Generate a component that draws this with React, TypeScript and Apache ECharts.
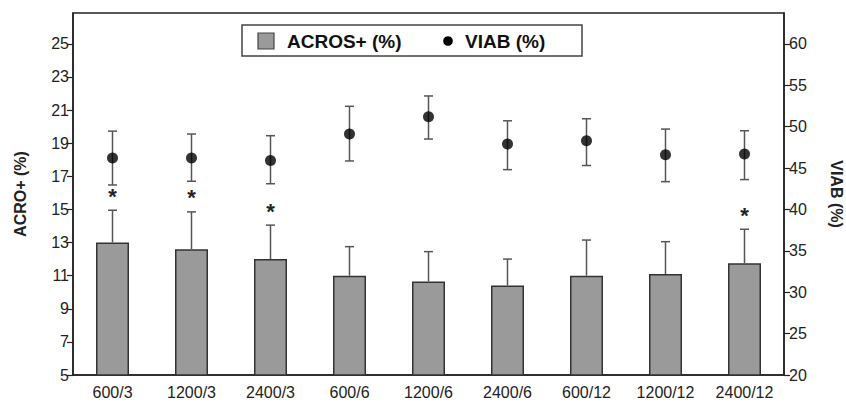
import React, { useEffect, useRef } from "react";
import * as echarts from "echarts";

const categories = ["600/3", "1200/3", "2400/3", "600/6", "1200/6", "2400/6", "600/12", "1200/12", "2400/12"];
const acrosMean = [13.0, 12.6, 12.0, 11.0, 10.65, 10.4, 11.0, 11.1, 11.75];
const acrosUpper = [14.95, 14.85, 14.05, 12.75, 12.45, 12.0, 13.15, 13.05, 13.8];
const acrosSig = [1, 1, 1, 0, 0, 0, 0, 0, 1];
const viabMean = [46.2, 46.2, 45.9, 49.1, 51.2, 47.9, 48.3, 46.6, 46.7];
const viabLower = [42.95, 43.4, 43.1, 45.85, 48.5, 44.8, 45.3, 43.35, 43.6];
const viabUpper = [49.45, 49.1, 48.9, 52.45, 53.7, 50.7, 50.95, 49.7, 49.5];
const leftTicks = [5, 7, 9, 11, 13, 15, 17, 19, 21, 23, 25];
const rightTicks = [20, 25, 30, 35, 40, 45, 50, 55, 60];

const FONT = "'Liberation Sans', Arial, Helvetica, sans-serif";

export default function App() {
  const ref = useRef<HTMLDivElement>(null);
  useEffect(() => {
    if (!ref.current) return;
    const chart = echarts.init(ref.current, undefined, { renderer: "svg" });
    const barErrData = categories.map((_, i) => [i, acrosMean[i], acrosUpper[i], acrosSig[i]]);
    const viabErrData = categories.map((_, i) => [i, viabMean[i], viabLower[i], viabUpper[i]]);
    const capHalf = 4.5;
    const option: any = {
      animation: false,
      textStyle: { fontFamily: FONT },
      grid: {
        left: 73, right: 62, top: 13, bottom: 31,
        outerBoundsMode: "none",
        containLabel: false,
        show: true, borderColor: "#222", borderWidth: 1.5, backgroundColor: "transparent",
      },
      xAxis: {
        type: "category",
        data: categories,
        axisLine: { lineStyle: { color: "#222", width: 1.5 } },
        axisTick: { show: false },
        axisLabel: { fontSize: 16, color: "#222", margin: 9, fontFamily: FONT },
        splitLine: { show: false },
      },
      yAxis: [
        {
          type: "value",
          min: 5, max: 26.86,
          name: "ACRO+ (%)",
          nameLocation: "middle",
          nameGap: 45,
          nameRotate: 90,
          nameTextStyle: { fontSize: 16, fontWeight: "bold", color: "#222", fontFamily: FONT },
          axisLine: { show: true, lineStyle: { color: "#222", width: 1.5 } },
          axisTick: { show: true, length: 6, customValues: leftTicks, lineStyle: { color: "#222", width: 1.2 } },
          axisLabel: { fontSize: 16, color: "#222", margin: 4, customValues: leftTicks, fontFamily: FONT },
          splitLine: { show: false },
        },
        {
          type: "value",
          min: 20, max: 63.72,
          position: "right",
          name: "VIAB (%)",
          nameLocation: "middle",
          nameGap: 44,
          nameRotate: -90,
          nameTextStyle: { fontSize: 16, fontWeight: "bold", color: "#222", fontFamily: FONT },
          axisLine: { show: true, lineStyle: { color: "#222", width: 1.5 } },
          axisTick: { show: true, length: 6, customValues: rightTicks, lineStyle: { color: "#222", width: 1.2 } },
          axisLabel: { fontSize: 16, color: "#222", margin: 5, customValues: rightTicks, fontFamily: FONT },
          splitLine: { show: false },
        },
      ],
      series: [
        {
          name: "ACROS+ (%)",
          type: "bar",
          yAxisIndex: 0,
          data: acrosMean,
          barWidth: 33,
          itemStyle: { color: "#9a9a9a", borderColor: "#333", borderWidth: 1.5 },
          z: 2,
        },
        {
          type: "custom",
          yAxisIndex: 0,
          data: barErrData,
          z: 3,
          renderItem: (params: any, api: any) => {
            const x = api.value(0);
            const base = api.coord([x, api.value(1)]);
            const top = api.coord([x, api.value(2)]);
            const children: any[] = [
              { type: "line", shape: { x1: base[0], y1: base[1], x2: top[0], y2: top[1] }, style: { stroke: "#555", lineWidth: 1.5 } },
              { type: "line", shape: { x1: top[0] - capHalf, y1: top[1], x2: top[0] + capHalf, y2: top[1] }, style: { stroke: "#555", lineWidth: 1.5 } },
            ];
            if (api.value(3) === 1) {
              children.push({
                type: "text",
                style: {
                  text: "*", x: top[0], y: top[1] - 3, align: "center", verticalAlign: "bottom",
                  fontSize: 22, fontWeight: "bold", fill: "#222", fontFamily: FONT,
                },
              });
            }
            return { type: "group", children };
          },
        },
        {
          type: "custom",
          yAxisIndex: 1,
          data: viabErrData,
          z: 3,
          renderItem: (params: any, api: any) => {
            const x = api.value(0);
            const lo = api.coord([x, api.value(2)]);
            const hi = api.coord([x, api.value(3)]);
            const st = { stroke: "#555", lineWidth: 1.5 };
            return {
              type: "group",
              children: [
                { type: "line", shape: { x1: lo[0], y1: lo[1], x2: hi[0], y2: hi[1] }, style: st },
                { type: "line", shape: { x1: lo[0] - capHalf, y1: lo[1], x2: lo[0] + capHalf, y2: lo[1] }, style: st },
                { type: "line", shape: { x1: hi[0] - capHalf, y1: hi[1], x2: hi[0] + capHalf, y2: hi[1] }, style: st },
              ],
            };
          },
        },
        {
          name: "VIAB (%)",
          type: "scatter",
          yAxisIndex: 1,
          data: viabMean,
          symbol: "circle",
          symbolSize: 11,
          itemStyle: { color: "#000" },
          z: 4,
        },
      ],
      graphic: [
        {
          type: "group",
          children: [
            { type: "rect", shape: { x: 242, y: 25, width: 340, height: 31 }, style: { fill: "#fff", stroke: "#444", lineWidth: 1.5 } },
            { type: "rect", shape: { x: 258, y: 33, width: 16, height: 16 }, style: { fill: "#9a9a9a", stroke: "#444", lineWidth: 1.2 } },
            { type: "text", style: { text: "ACROS+ (%)", x: 287, y: 41.5, verticalAlign: "middle", fontSize: 19, fontWeight: "bold", fill: "#111", fontFamily: FONT } },
            { type: "circle", shape: { cx: 448, cy: 41, r: 4.8 }, style: { fill: "#000" } },
            { type: "text", style: { text: "VIAB (%)", x: 465, y: 41.5, verticalAlign: "middle", fontSize: 19, fontWeight: "bold", fill: "#111", fontFamily: FONT } },
          ],
        },
      ],
    };
    chart.setOption(option);
    return () => chart.dispose();
  }, []);
  return <div ref={ref} style={{ width: 846, height: 406, position: "absolute", left: 0, top: 0, background: "#fff" }} />;
}
